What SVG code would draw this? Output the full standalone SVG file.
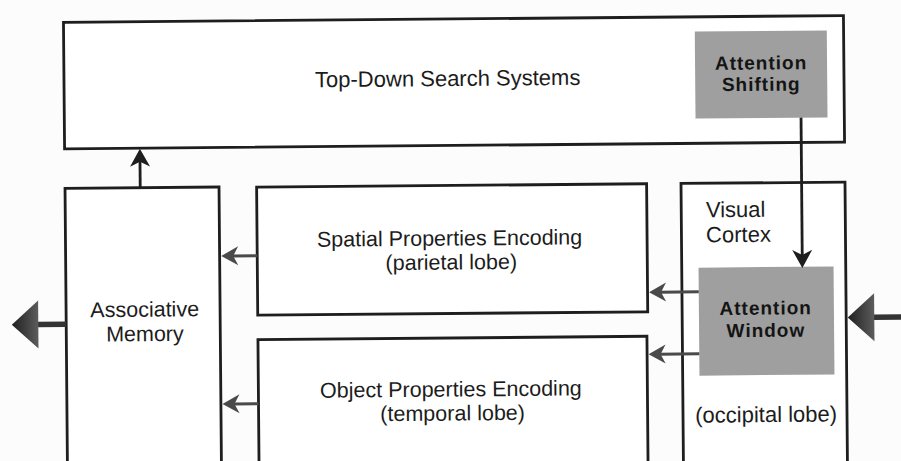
<svg xmlns="http://www.w3.org/2000/svg" width="901" height="461" viewBox="0 0 901 461">
  <style>
    .box { fill: #ffffff; stroke: #1e1e1e; stroke-width: 2.8; }
    .shade { fill: #9f9f9f; stroke: none; }
    .lbl { font-family: "Liberation Sans", Arial, Helvetica, sans-serif; font-size: 22px; fill: #1c1c1c; }
    .two { font-size: 21.5px; }
    .mid { text-anchor: middle; }
    .bold { font-family: "Liberation Sans", Arial, Helvetica, sans-serif; font-size: 19px; font-weight: bold; letter-spacing: 1px; fill: #141414; text-anchor: middle; }
    .wire { fill: none; stroke: #1e1e1e; stroke-width: 2.8; }
    .wire-gray { fill: none; stroke: #4a4a4a; stroke-width: 3; }
    .wire-big { fill: none; stroke: #333333; stroke-width: 5.5; }
  </style>
  <defs>
    <marker id="ah-black" viewBox="-19 -11 20 22" refX="-12" refY="0" markerWidth="20" markerHeight="22" markerUnits="userSpaceOnUse" orient="auto">
      <path d="M0,0 L-18,-10 L-13,0 L-18,10 Z" fill="#1e1e1e"/>
    </marker>
    <marker id="ah-gray" viewBox="-18 -10 19 20" refX="-11" refY="0" markerWidth="19" markerHeight="20" markerUnits="userSpaceOnUse" orient="auto">
      <path d="M0,0 L-17,-9.5 L-12,0 L-17,9.5 Z" fill="#4a4a4a"/>
    </marker>
    <linearGradient id="big-fill" x1="0" y1="0" x2="1" y2="0">
      <stop offset="0" stop-color="#5c5c5c"/>
      <stop offset="1" stop-color="#1f1f1f"/>
    </linearGradient>
    <marker id="ah-big" viewBox="-27 -25 28 50" refX="-25" refY="0" markerWidth="28" markerHeight="50" markerUnits="userSpaceOnUse" orient="auto">
      <path d="M0,0 L-26.5,-24 L-26.5,24 Z" fill="url(#big-fill)"/>
    </marker>
  </defs>

  <rect x="0" y="0" width="901" height="461" fill="#fcfcfc"/>

  <g transform="rotate(-0.5 450 230)">
    <g id="top-down-search">
      <rect class="box" x="65.3" y="19" width="780" height="126.5"/>
      <text class="lbl mid" x="449" y="86">Top-Down Search Systems</text>
    </g>

    <g id="attention-shifting">
      <rect class="shade" x="696.5" y="33.7" width="132" height="87"/>
      <text class="bold" x="762.5" y="72.2">Attention</text>
      <text class="bold" x="762.5" y="93.5">Shifting</text>
    </g>

    <g id="associative-memory">
      <rect class="box" x="65.4" y="185" width="154" height="320"/>
      <text class="lbl two mid" x="144" y="314">Associative</text>
      <text class="lbl two mid" x="144" y="338.5">Memory</text>
    </g>

    <g id="spatial-properties">
      <rect class="box" x="257" y="185.5" width="390" height="128"/>
      <text class="lbl two mid" x="449.5" y="245.5">Spatial Properties Encoding</text>
      <text class="lbl two mid" x="451" y="269.5">(parietal lobe)</text>
    </g>

    <g id="object-properties">
      <rect class="box" x="257" y="338" width="389" height="170"/>
      <text class="lbl two mid" x="449.5" y="396.5">Object Properties Encoding</text>
      <text class="lbl two mid" x="451" y="420.5">(temporal lobe)</text>
    </g>

    <g id="visual-cortex">
      <rect class="box" x="681.4" y="185.5" width="164" height="320"/>
      <text class="lbl" x="706" y="219.5">Visual</text>
      <text class="lbl" x="706" y="244.5">Cortex</text>
      <text class="lbl mid" x="764.5" y="424.8">(occipital lobe)</text>
    </g>

    <g id="attention-window">
      <rect class="shade" x="698.2" y="269.8" width="135" height="108"/>
      <text class="bold" x="765" y="317.3">Attention</text>
      <text class="bold" x="765" y="339.6">Window</text>
    </g>

    <g id="connectors">
      <line class="wire" x1="140.6" y1="185" x2="140.6" y2="158" marker-end="url(#ah-black)"/>
      <line class="wire" x1="802" y1="120.7" x2="802" y2="259" marker-end="url(#ah-black)"/>
      <line class="wire-gray" x1="698.2" y1="294" x2="659.5" y2="294" marker-end="url(#ah-gray)"/>
      <line class="wire-gray" x1="698.2" y1="356" x2="658.5" y2="356" marker-end="url(#ah-gray)"/>
      <line class="wire-gray" x1="257" y1="254" x2="232" y2="254" marker-end="url(#ah-gray)"/>
      <line class="wire-gray" x1="257" y1="402" x2="232" y2="402" marker-end="url(#ah-gray)"/>
      <line class="wire-big" x1="65.4" y1="321" x2="36" y2="321" marker-end="url(#ah-big)"/>
      <line class="wire-big" x1="915" y1="321" x2="872" y2="321" marker-end="url(#ah-big)"/>
    </g>
  </g>
</svg>
